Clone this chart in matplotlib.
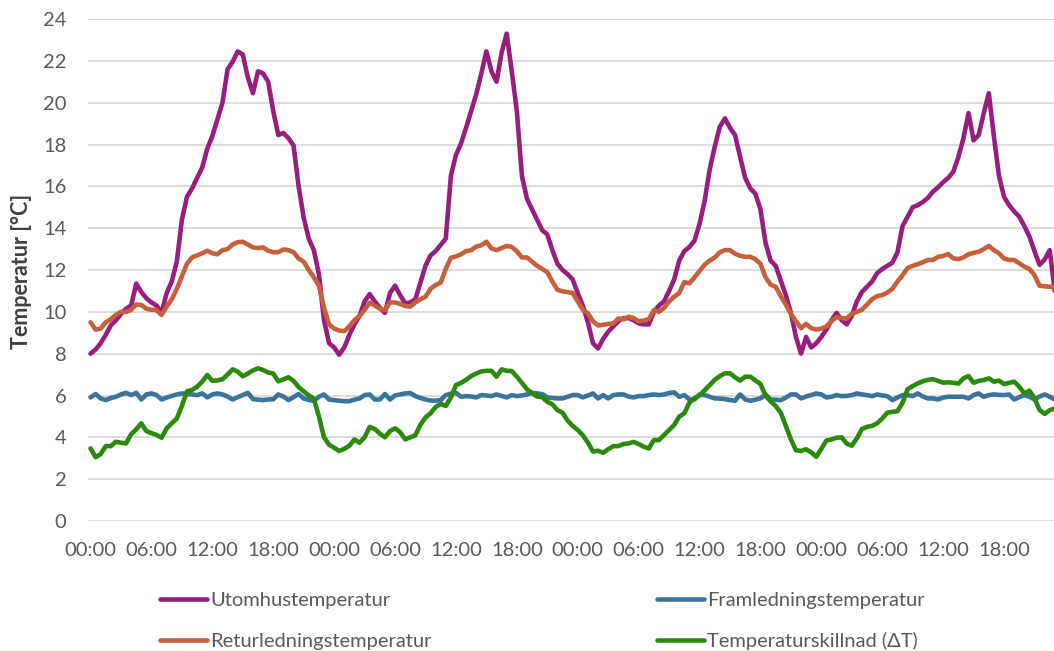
import matplotlib
matplotlib.use("Agg")
import matplotlib.pyplot as plt
import numpy as np

# ---------------- data (half-hourly, 4 days) ----------------
tick_labels = ["00:00", "06:00", "12:00", "18:00"] * 4

outdoor = [
    8.0, 8.2, 8.5, 8.9, 9.35, 9.6, 9.9, 10.15, 10.3, 11.35, 10.95, 10.65,
    10.45, 10.3, 9.95, 10.9, 11.45, 12.4, 14.4, 15.5, 15.9, 16.4, 16.9, 17.8,
    18.4, 19.2, 20.0, 21.6, 21.95, 22.45, 22.3, 21.2, 20.45, 21.5, 21.4, 21.0,
    19.6, 18.45, 18.55, 18.3, 17.95, 16.0, 14.5, 13.5, 12.95, 11.8, 9.6, 8.5,
    8.3, 7.95, 8.3, 8.9, 9.4, 9.8, 10.5, 10.85, 10.5, 10.2, 9.95, 10.9,
    11.25, 10.8, 10.4, 10.45, 10.6, 11.4, 12.2, 12.7, 12.9, 13.2, 13.5, 16.5,
    17.5, 18.05, 18.8, 19.6, 20.4, 21.4, 22.45, 21.5, 21.0, 22.4, 23.3, 21.5,
    19.6, 16.5, 15.4, 14.9, 14.4, 13.9, 13.7, 12.95, 12.3, 12.0, 11.8, 11.55,
    10.9, 10.3, 9.5, 8.5, 8.25, 8.7, 9.05, 9.3, 9.55, 9.7, 9.7, 9.6,
    9.45, 9.4, 9.4, 10.0, 10.3, 10.5, 11.0, 11.55, 12.45, 12.9, 13.1, 13.4,
    14.2, 15.3, 16.8, 17.9, 18.85, 19.25, 18.8, 18.45, 17.4, 16.4, 15.9, 15.65,
    14.9, 13.3, 12.45, 12.2, 11.5, 10.8, 9.95, 8.8, 8.0, 8.8, 8.3, 8.5,
    8.8, 9.15, 9.6, 9.95, 9.6, 9.4, 9.8, 10.5, 10.95, 11.2, 11.45, 11.85,
    12.05, 12.2, 12.35, 12.85, 14.1, 14.55, 15.0, 15.1, 15.25, 15.45, 15.75, 15.95,
    16.2, 16.4, 16.7, 17.4, 18.3, 19.5, 18.2, 18.45, 19.5, 20.45, 18.4, 16.5,
    15.5, 15.1, 14.8, 14.55, 14.1, 13.6, 12.9, 12.25, 12.5, 12.95, 11.0, 10.8,
]

supply = [
    5.91, 6.07, 5.86, 5.78, 5.88, 5.94, 6.05, 6.13, 6.02, 6.13, 5.81, 6.05,
    6.1, 6.02, 5.81, 5.9, 5.98, 6.05, 6.1, 6.07, 6.05, 6.02, 6.1, 5.91,
    6.05, 6.1, 6.05, 5.95, 5.81, 5.92, 6.02, 6.13, 5.83, 5.8, 5.78, 5.81,
    5.82, 6.05, 5.95, 5.78, 5.92, 6.07, 5.86, 5.78, 5.75, 5.94, 6.05, 5.81,
    5.78, 5.75, 5.73, 5.73, 5.8, 5.86, 6.02, 6.05, 5.81, 5.81, 6.07, 5.81,
    6.0, 6.05, 6.1, 6.12, 5.97, 5.88, 5.81, 5.76, 5.75, 5.78, 6.02, 6.08,
    6.13, 5.94, 5.97, 5.95, 5.91, 6.02, 6.0, 5.97, 6.05, 5.98, 5.91, 6.02,
    5.97, 6.0, 6.05, 6.13, 6.1, 6.07, 5.91, 5.88, 5.86, 5.86, 5.94, 6.02,
    6.02, 5.91, 6.0, 6.1, 5.86, 6.02, 5.86, 6.02, 6.05, 6.05, 5.95, 5.91,
    5.97, 5.97, 6.02, 6.05, 6.02, 6.05, 6.12, 6.15, 5.94, 6.02, 5.81, 5.81,
    6.05, 6.02, 5.94, 5.86, 5.85, 5.83, 5.78, 5.75, 6.05, 5.81, 5.75, 5.8,
    5.86, 6.05, 5.81, 5.8, 5.78, 5.9, 6.05, 6.05, 5.86, 5.95, 6.02, 6.1,
    6.05, 5.91, 5.94, 6.02, 5.97, 5.98, 6.02, 6.1, 6.05, 6.02, 5.97, 6.05,
    6.0, 5.97, 5.78, 5.9, 6.02, 6.02, 5.97, 6.1, 5.95, 5.86, 5.86, 5.81,
    5.9, 5.94, 5.94, 5.94, 5.94, 5.86, 6.02, 6.1, 5.94, 6.02, 6.05, 6.03,
    6.02, 6.05, 5.81, 5.92, 6.02, 5.94, 5.81, 5.95, 6.05, 5.94, 5.81, 5.85,
]

returned = [
    9.5, 9.15, 9.2, 9.5, 9.65, 9.85, 10.0, 10.0, 10.1, 10.35, 10.33, 10.15,
    10.1, 10.08, 9.85, 10.25, 10.6, 11.1, 11.7, 12.3, 12.6, 12.7, 12.8, 12.92,
    12.8, 12.75, 12.95, 13.0, 13.22, 13.33, 13.35, 13.22, 13.08, 13.05, 13.08, 12.92,
    12.85, 12.85, 12.98, 12.95, 12.85, 12.55, 12.4, 12.0, 11.65, 11.25, 10.2, 9.4,
    9.2, 9.1, 9.08, 9.3, 9.6, 9.8, 10.1, 10.44, 10.3, 10.15, 10.08, 10.45,
    10.45, 10.38, 10.28, 10.25, 10.45, 10.6, 10.72, 11.1, 11.28, 11.4, 12.05, 12.58,
    12.65, 12.75, 12.9, 12.95, 13.12, 13.18, 13.35, 13.03, 12.95, 13.05, 13.15, 13.1,
    12.9, 12.6, 12.6, 12.4, 12.2, 12.05, 11.9, 11.45, 11.05, 10.98, 10.94, 10.9,
    10.5, 10.1, 9.93, 9.55, 9.35, 9.38, 9.42, 9.45, 9.68, 9.64, 9.77, 9.7,
    9.55, 9.58, 9.65, 10.08, 10.0, 10.18, 10.5, 10.72, 10.9, 11.42, 11.36, 11.65,
    11.95, 12.25, 12.45, 12.6, 12.85, 12.95, 12.95, 12.78, 12.68, 12.63, 12.63, 12.52,
    12.3, 11.65, 11.3, 11.2, 10.75, 10.35, 9.9, 9.55, 9.22, 9.42, 9.22, 9.15,
    9.2, 9.3, 9.55, 9.75, 9.7, 9.69, 9.9, 10.0, 10.1, 10.35, 10.6, 10.75,
    10.8, 10.92, 11.1, 11.45, 11.75, 12.1, 12.2, 12.28, 12.37, 12.48, 12.48, 12.63,
    12.67, 12.76, 12.56, 12.52, 12.6, 12.75, 12.82, 12.87, 13.0, 13.15, 12.95, 12.8,
    12.55, 12.48, 12.48, 12.32, 12.16, 12.05, 11.75, 11.25, 11.22, 11.2, 11.17, 11.15,
]

delta_t = [
    3.47, 3.05, 3.2, 3.58, 3.58, 3.79, 3.74, 3.71, 4.15, 4.38, 4.67, 4.3,
    4.2, 4.12, 3.98, 4.43, 4.67, 4.9, 5.5, 6.2, 6.26, 6.42, 6.66, 6.98,
    6.7, 6.72, 6.78, 7.0, 7.25, 7.14, 6.92, 7.05, 7.2, 7.3, 7.22, 7.1,
    7.05, 6.68, 6.77, 6.87, 6.7, 6.4, 6.2, 6.0, 5.85, 5.0, 4.0, 3.65,
    3.5, 3.35, 3.45, 3.6, 3.9, 3.74, 4.0, 4.5, 4.4, 4.18, 4.0, 4.3,
    4.43, 4.25, 3.9, 4.0, 4.1, 4.6, 4.95, 5.15, 5.45, 5.6, 5.5, 5.9,
    6.5, 6.6, 6.75, 6.93, 7.05, 7.15, 7.18, 7.18, 6.9, 7.25, 7.18, 7.17,
    6.9, 6.6, 6.3, 6.1, 5.95, 5.92, 5.7, 5.58, 5.3, 5.18, 4.8, 4.55,
    4.35, 4.1, 3.75, 3.32, 3.36, 3.26, 3.43, 3.58, 3.58, 3.68, 3.71, 3.78,
    3.68, 3.55, 3.47, 3.87, 3.87, 4.11, 4.35, 4.59, 4.99, 5.15, 5.66, 5.87,
    6.0, 6.25, 6.5, 6.75, 6.93, 7.06, 7.06, 6.87, 6.71, 6.9, 6.9, 6.72,
    6.55, 6.0, 5.72, 5.5, 5.18, 4.55, 3.9, 3.38, 3.35, 3.43, 3.28, 3.07,
    3.45, 3.85, 3.9, 3.98, 4.0, 3.7, 3.6, 3.95, 4.4, 4.5, 4.55, 4.67,
    4.9, 5.18, 5.22, 5.25, 5.65, 6.3, 6.45, 6.58, 6.68, 6.75, 6.78, 6.7,
    6.61, 6.63, 6.61, 6.57, 6.82, 6.93, 6.61, 6.7, 6.74, 6.82, 6.66, 6.71,
    6.55, 6.6, 6.66, 6.42, 6.1, 6.23, 5.87, 5.31, 5.12, 5.3, 5.38, 5.4,
]

series_names = ["Utomhustemperatur", "Framledningstemperatur",
                "Returledningstemperatur", "Temperaturskillnad (\u0394T)"]

for s in (outdoor, supply, returned, delta_t):
    if len(s) != 192:
        raise ValueError("length %d" % len(s))

# ---------------- style ----------------
FONT = ["Lato", "DejaVu Sans"]
plt.rcParams["font.family"] = FONT
TXT = "#595959"
C_PURPLE = "#971E7F"
C_BLUE = "#3B7399"
C_ORANGE = "#C65F3C"
C_GREEN = "#2A8A0C"

W, H = 1054, 651
fig = plt.figure(figsize=(W / 100, H / 100), dpi=100)
ax_left, ax_right = 88, 88 + 192 * 5.075
ax_bottom, ax_top = 521, 19
ax = fig.add_axes([ax_left / W, 1 - ax_bottom / H,
                   (ax_right - ax_left) / W, (ax_bottom - ax_top) / H])

x = np.arange(len(outdoor))
lw = 3.3
kw = dict(lw=lw, solid_joinstyle="round", solid_capstyle="round")
h_out, = ax.plot(x, outdoor, color=C_PURPLE, label=series_names[0], **kw)
h_sup, = ax.plot(x, supply, color=C_BLUE, label=series_names[1], **kw)
h_ret, = ax.plot(x, returned, color=C_ORANGE, label=series_names[2], **kw)
h_dt, = ax.plot(x, delta_t, color=C_GREEN, label=series_names[3], **kw)

ax.set_xlim(-0.5, 191.5)
ax.set_ylim(0, 24)
ax.set_yticks(np.arange(0, 25, 2))
ax.set_xticks(np.arange(0, 192, 12))
ax.set_xticklabels(tick_labels)
ax.grid(axis="y", color="#D9D9D9", lw=1.3)
ax.set_axisbelow(True)
for sp in ax.spines.values():
    sp.set_visible(False)
ax.tick_params(axis="y", length=0, pad=15.5, labelsize=14.5, labelcolor=TXT)
ax.tick_params(axis="x", length=0, pad=15, labelsize=14.5, labelcolor=TXT)

fig.text(22 / W, 1 - 271 / H, "Temperatur [\u00b0C]", rotation=90,
         ha="center", va="center", fontsize=15.5, fontweight="bold",
         color="#404040")

leg_kw = dict(frameon=False, fontsize=14.5, handlelength=2.35,
              handletextpad=0.15, borderpad=0, borderaxespad=0,
              labelspacing=1.15, labelcolor=TXT, loc="center left")
fig.legend(handles=[h_out, h_ret], labels=[series_names[0], series_names[2]],
           bbox_to_anchor=(160 / W, 1 - 621 / H), **leg_kw)
fig.legend(handles=[h_sup, h_dt], labels=[series_names[1], series_names[3]],
           bbox_to_anchor=(657 / W, 1 - 621 / H), **leg_kw)

fig.savefig("out.png", dpi=100)
